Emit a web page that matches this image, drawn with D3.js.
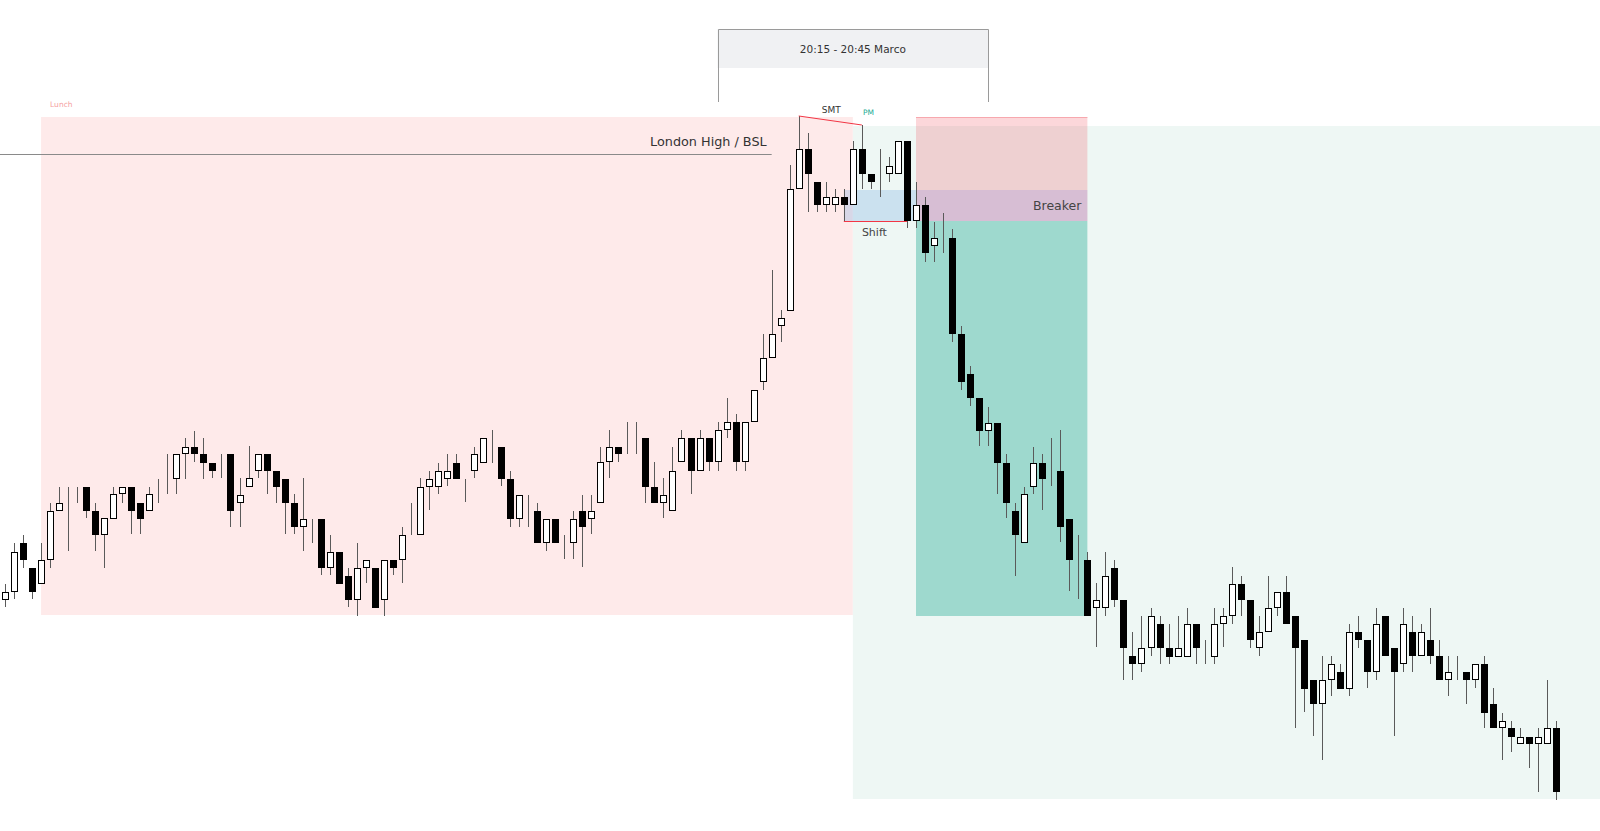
<!DOCTYPE html>
<html>
<head>
<meta charset="utf-8">
<script src="https://cdn.jsdelivr.net/npm/d3@7"></script>
<style>
  html, body { margin: 0; padding: 0; background: #fff; overflow: hidden; }
  text { font-family: "DejaVu Sans", sans-serif; }
</style>
</head>
<body>
<svg id="chart"></svg>
<script>
// candle prices (one bar per slot, left to right)
var opens = [
  400,408,457,432,416,440,489,497,506,513,
  489,465,481,506,513,497,489,513,513,521,
  546,553,546,537,537,546,497,513,529,546,
  529,521,497,473,481,481,432,448,424,400,
  432,432,400,440,440,465,465,513,513,521,
  537,521,529,537,553,553,521,481,497,489,
  457,481,457,457,489,481,497,538,553,553,
  562,562,513,497,489,538,562,529,562,538,
  570,578,538,578,618,642,674,689,811,851,
  818,795,795,803,795,851,826,818,826,826,
  859,779,795,754,762,762,666,626,602,569,
  577,537,489,457,513,537,521,529,481,440,
  440,392,392,432,400,344,336,352,376,352,
  343,343,376,344,343,376,384,416,400,352,
  368,392,408,384,360,320,296,320,328,311,
  368,360,328,384,352,336,368,344,360,344,
  320,328,328,320,336,296,272,272,256,263,
  256,256,272];
var highs = [
  416,457,465,432,457,497,513,513,513,513,
  497,482,513,513,513,497,513,521,546,546,
  562,569,562,537,546,546,522,554,546,546,
  529,521,506,522,481,481,465,448,432,457,
  440,432,440,440,473,497,522,529,537,546,
  546,521,553,562,570,553,529,505,505,497,
  481,481,465,489,505,505,553,570,553,578,
  578,562,538,522,553,570,562,570,562,578,
  602,586,578,610,666,730,690,835,884,867,
  818,818,811,811,859,875,826,851,843,859,
  859,818,803,778,787,771,674,634,602,593,
  577,546,497,513,553,546,562,570,481,465,
  448,417,448,440,400,368,384,392,384,376,
  384,392,376,360,392,392,433,424,400,384,
  424,408,424,384,360,320,344,344,336,376,
  384,360,392,384,352,392,384,376,392,360,
  344,344,328,336,344,312,287,279,272,263,
  272,320,279];
var lows = [
  393,401,432,401,416,432,489,449,497,482,
  449,432,481,497,466,466,489,497,506,506,
  521,538,521,522,522,473,473,513,522,506,
  497,466,466,449,457,425,425,416,393,384,
  417,392,384,425,417,465,465,490,506,514,
  521,498,522,537,537,514,473,473,473,457,
  449,457,441,441,433,466,497,522,538,546,
  546,497,497,482,489,538,506,529,529,529,
  562,529,529,578,610,642,658,689,811,788,
  788,788,788,779,795,811,811,803,818,826,
  772,772,738,738,747,658,610,594,554,554,
  506,482,424,457,506,490,514,458,409,401,
  384,353,384,393,320,320,328,344,336,336,
  343,343,336,336,336,353,376,384,352,344,
  368,384,376,272,288,264,240,304,311,304,
  352,312,320,344,264,328,328,344,336,320,
  304,320,296,312,272,272,240,248,256,232,
  208,256,200];
var closes = [
  408,448,440,408,440,489,497,497,506,489,
  465,482,506,513,489,481,506,513,513,546,
  553,546,537,529,537,489,505,522,546,529,
  513,497,473,481,481,432,448,416,400,432,
  440,392,440,432,465,465,513,521,529,529,
  521,521,546,562,553,521,481,505,497,457,
  481,457,457,481,473,489,538,553,546,553,
  562,513,497,505,529,562,529,562,538,570,
  578,538,578,610,642,666,682,811,851,826,
  795,803,803,795,851,826,818,818,834,859,
  779,795,747,762,762,666,618,602,569,577,
  537,497,465,506,537,521,521,473,440,440,
  384,400,424,400,352,336,352,384,352,343,
  352,376,352,344,376,384,416,400,360,368,
  392,408,376,352,311,296,320,336,311,368,
  360,328,376,344,328,376,344,368,344,320,
  328,328,320,336,287,272,279,263,263,256,
  263,272,208];

// zones: [from bar, to bar, top price, bottom price]
var lunchZone   = [4, 94, 883, 385];
var pmZone      = [94, 177, 874, 201];
var shiftZone   = [93, 101, 810, 779];
var breakerHigh = [101, 120, 883, 779];
var breakerBand = [101, 120, 810, 779];
var targetZone  = [101, 120, 779, 384];
var sessionBox  = [79, 109, 971, 932, 898];

// lines: [from bar, price, to bar, price]
var londonHigh = [-1, 846, 85, 846];
var smtLine    = [88, 884, 95, 875];
var shiftLine  = [93, 779, 100, 779];

var width = 1600, height = 831;

var x = d3.scaleLinear().domain([0, 172]).range([5, 1556.4]);
var y = d3.scaleLinear().domain([169, 1000]).range([height, 0]);

var svg = d3.select("#chart")
    .attr("width", width)
    .attr("height", height);

function zoneRect(z, fill) {
  svg.append("rect")
    .attr("x", x(z[0]))
    .attr("y", y(z[2]))
    .attr("width", x(z[1]) - x(z[0]))
    .attr("height", y(z[3]) - y(z[2]))
    .attr("fill", fill);
}

// background zones
zoneRect(lunchZone, "#feeaea");
zoneRect(pmZone, "#eef7f4");
zoneRect(shiftZone, "rgba(100,160,225,0.25)");
zoneRect(breakerHigh, "rgba(242,54,69,0.2)");
zoneRect(breakerBand, "rgba(110,110,225,0.18)");
zoneRect(targetZone, "#9ed9ce");

svg.append("line")
  .attr("x1", x(breakerHigh[0])).attr("x2", x(breakerHigh[1]))
  .attr("y1", y(breakerHigh[2]) + 0.5).attr("y2", y(breakerHigh[2]) + 0.5)
  .attr("stroke", "#f7a8ae").attr("stroke-width", 1);

// session box at top
svg.append("rect")
  .attr("x", x(sessionBox[0]))
  .attr("y", y(sessionBox[2]))
  .attr("width", x(sessionBox[1]) - x(sessionBox[0]))
  .attr("height", y(sessionBox[3]) - y(sessionBox[2]))
  .attr("fill", "#f0f1f3");

svg.append("path")
  .attr("d", "M" + (Math.round(x(sessionBox[0])) + 0.5) + "," + y(sessionBox[4]) +
             "V" + (Math.round(y(sessionBox[2])) + 0.5) +
             "H" + (Math.round(x(sessionBox[1])) + 0.5) +
             "V" + y(sessionBox[4]))
  .attr("fill", "none")
  .attr("stroke", "#9a9a9a")
  .attr("stroke-width", 1);

svg.append("text")
  .attr("x", (x(sessionBox[0]) + x(sessionBox[1])) / 2)
  .attr("y", (y(sessionBox[2]) + y(sessionBox[3])) / 2 + 4)
  .attr("text-anchor", "middle")
  .attr("font-size", 10.5)
  .attr("fill", "#333")
  .text("20:15 - 20:45 Marco");

// london high line
svg.append("line")
  .attr("x1", x(londonHigh[0])).attr("x2", x(londonHigh[2]))
  .attr("y1", Math.round(y(londonHigh[1])) + 0.5).attr("y2", Math.round(y(londonHigh[3])) + 0.5)
  .attr("stroke", "#8a8a8a").attr("stroke-width", 1);

svg.append("text")
  .attr("x", x(londonHigh[2]) - 5)
  .attr("y", y(londonHigh[1]) - 8)
  .attr("text-anchor", "end")
  .attr("font-size", 12.8)
  .attr("fill", "#333")
  .text("London High / BSL");

svg.append("text")
  .attr("x", x(lunchZone[0]) + 9)
  .attr("y", y(lunchZone[2]) - 10)
  .attr("font-size", 7.5)
  .attr("fill", "#f5a0a0")
  .text("Lunch");

// candles
var bars = d3.range(opens.length).map(function(i) {
  return {i: i, o: opens[i], h: highs[i], l: lows[i], c: closes[i]};
});

var candle = svg.selectAll("g.candle")
    .data(bars)
  .enter().append("g")
    .attr("class", "candle");

candle.append("line")
    .attr("x1", function(d) { return Math.round(x(d.i)) + 0.5; })
    .attr("x2", function(d) { return Math.round(x(d.i)) + 0.5; })
    .attr("y1", function(d) { return y(d.h); })
    .attr("y2", function(d) { return y(d.l); })
    .attr("stroke", "#5a5a5a")
    .attr("stroke-width", 1);

candle.append("rect")
    .attr("x", function(d) { return Math.round(x(d.i)) - 2.5; })
    .attr("y", function(d) { return Math.round(y(Math.max(d.o, d.c))) + 0.5; })
    .attr("width", 6)
    .attr("height", function(d) { return Math.max(0, Math.abs(y(d.o) - y(d.c)) - 1); })
    .attr("fill", function(d) { return d.c >= d.o ? "#fff" : "#000"; })
    .attr("stroke", function(d) { return d.o == d.c ? "#333" : "#000"; })
    .attr("stroke-width", 1)
    .attr("shape-rendering", "crispEdges");

// smt and shift marks
svg.append("line")
  .attr("x1", x(smtLine[0])).attr("y1", y(smtLine[1]))
  .attr("x2", x(smtLine[2])).attr("y2", y(smtLine[3]))
  .attr("stroke", "#f23645").attr("stroke-width", 1);

svg.append("line")
  .attr("x1", x(shiftLine[0])).attr("x2", x(shiftLine[2]))
  .attr("y1", Math.round(y(shiftLine[1])) + 0.5).attr("y2", Math.round(y(shiftLine[3])) + 0.5)
  .attr("stroke", "#f23645").attr("stroke-width", 1);

svg.append("text")
  .attr("x", (x(smtLine[0]) + x(smtLine[2])) / 2 + 1)
  .attr("y", y(smtLine[1]) - 3)
  .attr("text-anchor", "middle")
  .attr("font-size", 9)
  .attr("fill", "#333")
  .text("SMT");

svg.append("text")
  .attr("x", x(smtLine[2]) + 1)
  .attr("y", y(smtLine[1]) - 1)
  .attr("font-size", 7.5)
  .attr("fill", "#22ab94")
  .text("PM");

svg.append("text")
  .attr("x", (x(shiftLine[0]) + x(shiftLine[2])) / 2 - 1)
  .attr("y", y(shiftLine[1]) + 15)
  .attr("text-anchor", "middle")
  .attr("font-size", 11)
  .attr("fill", "#444")
  .text("Shift");

svg.append("text")
  .attr("x", x(breakerBand[1]) - 6)
  .attr("y", (y(breakerBand[2]) + y(breakerBand[3])) / 2 + 4.5)
  .attr("text-anchor", "end")
  .attr("font-size", 12.5)
  .attr("fill", "#444")
  .text("Breaker");
</script>
</body>
</html>
